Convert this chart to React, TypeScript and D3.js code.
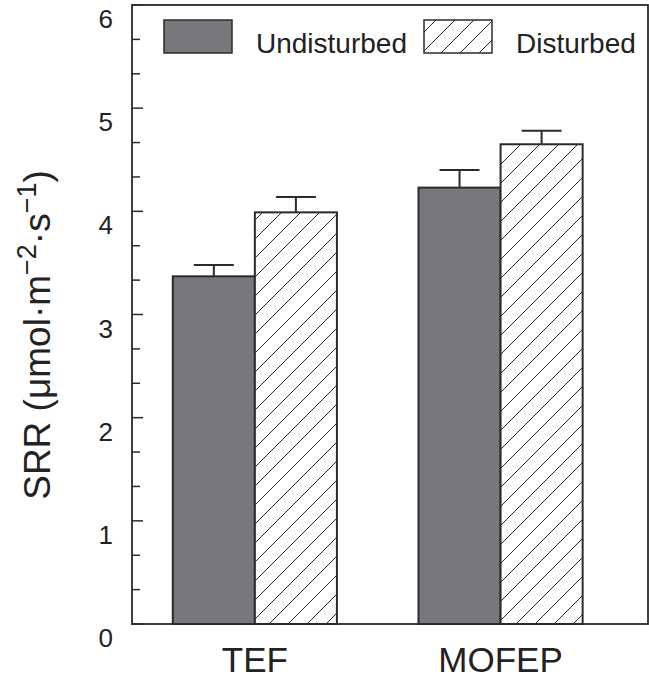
import React from "react";
import * as d3 from "d3";

const categories = ["TEF", "MOFEP"];
const series = ["Undisturbed", "Disturbed"];
const undisturbedValues = [3.37, 4.23];
const undisturbedErrors = [0.11, 0.17];
const disturbedValues = [3.99, 4.65];
const disturbedErrors = [0.15, 0.13];
const yMajorTicks = [0, 1, 2, 3, 4, 5, 6];

const W = 649;
const H = 679;
const FONT = "'Liberation Sans', Arial, Helvetica, sans-serif";
const INK = "#2b2b2b";
const GRAY = "#77787b";

export default function App() {
  const left = 132, right = 648, top = 5, bottom = 624;
  const x = d3.scaleLinear().domain([0.5, 2.6]).range([left, right]);
  const y = d3.scaleLinear().domain([0, 6]).range([bottom, top]);
  const half = 0.334;
  const inner = d3.scaleBand().domain(series).range([-half, half]);
  const minorTicks = d3.range(0, 18).map((i) => i / 3).filter((v) => Math.abs(v - Math.round(v)) > 1e-6);

  const rows = categories.map((c, i) => ({
    c,
    i,
    vals: [
      { s: series[0], v: undisturbedValues[i], e: undisturbedErrors[i] },
      { s: series[1], v: disturbedValues[i], e: disturbedErrors[i] },
    ],
  }));

  return (
    <svg width={W} height={H} style={{ position: "absolute", left: 0, top: 0 }} fontFamily={FONT}>
      <defs>
        <pattern id="hatch" patternUnits="userSpaceOnUse" width={19} height={19}>
          <rect width={19} height={19} fill="white" />
          <path d="M-2,2 L2,-2 M0,19 L19,0 M17,21 L21,17" stroke={INK} strokeWidth={1} />
        </pattern>
      </defs>
      <rect width={W} height={H} fill="white" />
      {rows.map((r) =>
        r.vals.map((d, j) => {
          const x0 = x(r.i + 1 + (inner(d.s) as number));
          const x1 = x0 + (x(inner.bandwidth()) - x(0));
          const cx = (x0 + x1) / 2;
          return (
            <g key={r.c + d.s}>
              <line x1={cx} x2={cx} y1={y(d.v)} y2={y(d.v + d.e)} stroke={INK} strokeWidth={2} />
              <line x1={cx - 20} x2={cx + 20} y1={y(d.v + d.e)} y2={y(d.v + d.e)} stroke={INK} strokeWidth={2} />
              <rect
                x={x0}
                y={y(d.v)}
                width={x1 - x0}
                height={y(0) - y(d.v)}
                fill={j === 0 ? GRAY : "url(#hatch)"}
                stroke={INK}
                strokeWidth={2}
              />
            </g>
          );
        })
      )}
      <rect x={left} y={top} width={right - left} height={bottom - top} fill="none" stroke={INK} strokeWidth={1.8} />
      {yMajorTicks.map((t) => (
        <g key={"M" + t}>
          <line x1={left} x2={left + 11} y1={y(t)} y2={y(t)} stroke={INK} strokeWidth={1.5} />
          <text x={113} y={y(t) + 23} fontSize={26} textAnchor="end" fill="#222">
            {t}
          </text>
        </g>
      ))}
      {minorTicks.map((t) => (
        <line key={"m" + t} x1={left} x2={left + 8} y1={y(t)} y2={y(t)} stroke={INK} strokeWidth={1.5} />
      ))}
      {categories.map((c, i) => (
        <text key={c} x={x(i + 1)} y={672} fontSize={35} textAnchor="middle" fill="#222">
          {c}
        </text>
      ))}
      <g>
        <rect x={164} y={20} width={68} height={33} fill={GRAY} stroke={INK} strokeWidth={1.5} />
        <text x={256} y={53} fontSize={28} fill="#222">{series[0]}</text>
        <rect x={424} y={20} width={68} height={33} fill="url(#hatch)" stroke={INK} strokeWidth={1.5} />
        <text x={516} y={53} fontSize={28} fill="#222">{series[1]}</text>
      </g>
      <text transform="translate(50,335) rotate(-90)" textAnchor="middle" fontSize={37} fill="#222">
        SRR (μmol·m
        <tspan fontSize={27} dy={-14}>−2</tspan>
        <tspan dy={14}>·s</tspan>
        <tspan fontSize={27} dy={-14}>−1</tspan>
        <tspan dy={14}>)</tspan>
      </text>
    </svg>
  );
}
